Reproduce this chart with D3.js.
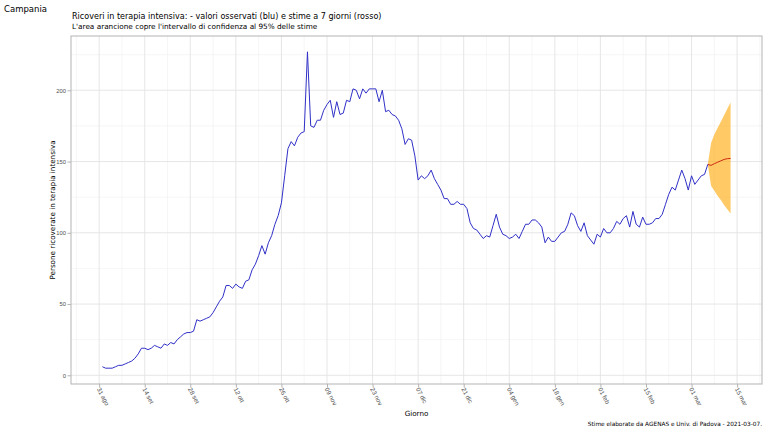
<!DOCTYPE html>
<html lang="it">
<head>
<meta charset="utf-8">
<title>Campania - terapia intensiva</title>
<script src="https://d3js.org/d3.v7.min.js"></script>
<style>
  body { margin: 0; background: #fff; }
  svg { display: block; font-family: "DejaVu Sans", sans-serif; }
  .tick text { fill: #4d4d4d; }
</style>
</head>
<body>
<div id="chart"></div>
<script>
// daily observed ICU patients, starting 1 Sep 2020
const startDate = "2020-09-01";
const osservati = [
  6, 5, 5, 5, 6, 7, 7, 8, 9, 10,
  12, 15, 19, 19, 18, 19, 21, 20, 19, 22,
  21, 23, 22, 25, 27, 29, 30, 30, 31, 39,
  38, 39, 40, 41, 44, 48, 52, 55, 63, 63,
  61, 64, 62, 61, 66, 67, 74, 78, 84, 91,
  85, 93, 98, 106, 112, 121, 140, 159, 164, 161,
  167, 170, 171, 227, 175, 174, 179, 179, 186, 190,
  193, 181, 192, 183, 184, 193, 192, 201, 200, 194,
  201, 198, 201, 201, 201, 192, 200, 185, 186, 183,
  182, 179, 173, 162, 166, 165, 154, 137, 140, 138,
  140, 144, 138, 134, 130, 124, 124, 120, 120, 122,
  120, 120, 117, 107, 103, 102, 99, 96, 98, 97,
  105, 113, 104, 99, 98, 96, 97, 99, 96, 101,
  106, 106, 109, 109, 107, 104, 93, 97, 94, 94,
  97, 100, 101, 106, 114, 112, 105, 101, 107, 98,
  95, 92, 99, 97, 103, 100, 100, 103, 108, 106,
  110, 112, 104, 115, 106, 104, 111, 106, 106, 107,
  110, 110, 113, 120, 127, 132, 130, 137, 144, 138,
  130, 140, 134, 137, 140, 141, 148
];

// 7-day estimates, starting from the last observed day (6 Mar 2021)
const stimeStart = "2021-03-06";
const stime = [148, 147.3, 148.5, 149.5, 150.5, 151.5, 152, 152.2];
const stimeLow = [148, 133, 129.5, 126, 123, 119.5, 116.5, 113.5];
const stimeHigh = [148, 163, 169, 173.5, 178, 182.5, 187, 191.5];

const xTickDates = ["2020-08-31", "2020-09-14", "2020-09-28", "2020-10-12", "2020-10-26",
  "2020-11-09", "2020-11-23", "2020-12-07", "2020-12-21", "2021-01-04", "2021-01-18",
  "2021-02-01", "2021-02-15", "2021-03-01", "2021-03-15"];
const xTickLabels = ["31 ago", "14 set", "28 set", "12 ott", "26 ott", "09 nov", "23 nov",
  "07 dic", "21 dic", "04 gen", "18 gen", "01 feb", "15 feb", "01 mar", "15 mar"];
const yTicks = [0, 50, 100, 150, 200];
const yMinor = [25, 75, 125, 175, 225];

const W = 767, H = 431;
const panel = { left: 71, right: 762, top: 36, bottom: 384 };
const DAY = 864e5;
const parse = d3.utcParse("%Y-%m-%d");

const obs = osservati.map((v, i) => ({ date: new Date(+parse(startDate) + i * DAY), v: v }));
const est = stime.map((v, i) => ({
  date: new Date(+parse(stimeStart) + i * DAY), v: v, lo: stimeLow[i], hi: stimeHigh[i]
}));

// ggplot-like 5% expansion
const t0 = +obs[0].date, t1 = +est[est.length - 1].date;
const xPad = (t1 - t0) * 0.05;
const yMin = d3.min(osservati), yMax = d3.max(osservati.concat(stimeHigh));
const yPad = (yMax - yMin) * 0.05;

const x = d3.scaleUtc()
  .domain([new Date(t0 - xPad), new Date(t1 + xPad)])
  .range([panel.left, panel.right]);
const y = d3.scaleLinear()
  .domain([yMin - yPad, yMax + yPad])
  .range([panel.bottom, panel.top]);

const svg = d3.select("#chart").append("svg")
  .attr("width", W).attr("height", H);
svg.append("rect").attr("width", W).attr("height", H).attr("fill", "#fff");

// grid
const tickDates = xTickDates.map(parse);
const minorDates = [];
tickDates.forEach(d => {
  [-7, 7].forEach(k => {
    const m = new Date(+d + k * DAY);
    if (m >= x.domain()[0] && m <= x.domain()[1] && !minorDates.some(o => +o === +m)) minorDates.push(m);
  });
});
const grid = svg.append("g");
grid.selectAll(".vmin").data(minorDates).join("line")
  .attr("x1", d => x(d)).attr("x2", d => x(d))
  .attr("y1", panel.top).attr("y2", panel.bottom)
  .attr("stroke", "#f0f0f0").attr("stroke-width", 0.6);
grid.selectAll(".hmin").data(yMinor).join("line")
  .attr("x1", panel.left).attr("x2", panel.right)
  .attr("y1", d => y(d)).attr("y2", d => y(d))
  .attr("stroke", "#f0f0f0").attr("stroke-width", 0.6);
grid.selectAll(".vmaj").data(tickDates.filter(d => d <= x.domain()[1])).join("line")
  .attr("x1", d => x(d)).attr("x2", d => x(d))
  .attr("y1", panel.top).attr("y2", panel.bottom)
  .attr("stroke", "#e3e3e3").attr("stroke-width", 0.9);
grid.selectAll(".hmaj").data(yTicks).join("line")
  .attr("x1", panel.left).attr("x2", panel.right)
  .attr("y1", d => y(d)).attr("y2", d => y(d))
  .attr("stroke", "#e3e3e3").attr("stroke-width", 0.9);

// confidence ribbon
svg.append("path").datum(est)
  .attr("fill", "orange").attr("fill-opacity", 0.6)
  .attr("d", d3.area().x(d => x(d.date)).y0(d => y(d.lo)).y1(d => y(d.hi)));

// observed
svg.append("path").datum(obs)
  .attr("fill", "none").attr("stroke", "#3030c8").attr("stroke-width", 1)
  .attr("stroke-linejoin", "round")
  .attr("d", d3.line().x(d => x(d.date)).y(d => y(d.v)));

// estimates
svg.append("path").datum(est)
  .attr("fill", "none").attr("stroke", "#cc2a14").attr("stroke-width", 1)
  .attr("d", d3.line().x(d => x(d.date)).y(d => y(d.v)));

// panel border
svg.append("rect")
  .attr("x", panel.left).attr("y", panel.top)
  .attr("width", panel.right - panel.left).attr("height", panel.bottom - panel.top)
  .attr("fill", "none").attr("stroke", "#b3b3b3").attr("stroke-width", 1);

// axes
const xAxis = svg.append("g")
  .attr("transform", "translate(0," + panel.bottom + ")")
  .call(d3.axisBottom(x).tickValues(tickDates).tickSize(3.5).tickPadding(0)
    .tickFormat((d, i) => xTickLabels[i]));
xAxis.select(".domain").remove();
xAxis.selectAll(".tick line").attr("stroke", "#b3b3b3");
xAxis.selectAll(".tick text")
  .attr("font-size", 6.3)
  .attr("text-anchor", "start")
  .attr("y", 0).attr("dy", "0.35em")
  .attr("transform", "translate(-1,4) rotate(62)");

const yAxis = svg.append("g")
  .attr("transform", "translate(" + panel.left + ",0)")
  .call(d3.axisLeft(y).tickValues(yTicks).tickSize(3.5).tickPadding(1.5));
yAxis.select(".domain").remove();
yAxis.selectAll(".tick line").attr("stroke", "#b3b3b3");
yAxis.selectAll(".tick text").attr("font-size", 5.8);

// texts
svg.append("text").attr("x", 4).attr("y", 12)
  .attr("font-size", 8.5).text("Campania");
svg.append("text").attr("x", 72).attr("y", 19)
  .attr("font-size", 8.05)
  .text("Ricoveri in terapia intensiva: - valori osservati (blu) e stime a 7 giorni (rosso)");
svg.append("text").attr("x", 72).attr("y", 29)
  .attr("font-size", 7.3)
  .text("L'area arancione copre l'intervallo di confidenza al 95% delle stime");
svg.append("text").attr("x", (panel.left + panel.right) / 2).attr("y", 416)
  .attr("text-anchor", "middle").attr("font-size", 7.2).text("Giorno");
svg.append("text")
  .attr("transform", "translate(54.5," + (panel.top + panel.bottom) / 2 + ") rotate(-90)")
  .attr("text-anchor", "middle").attr("font-size", 7.2)
  .text("Persone ricoverate in terapia intensiva");
svg.append("text").attr("x", panel.right).attr("y", 426)
  .attr("text-anchor", "end").attr("font-size", 5.8)
  .text("Stime elaborate da AGENAS e Univ. di Padova - 2021-03-07.");
</script>
</body>
</html>
